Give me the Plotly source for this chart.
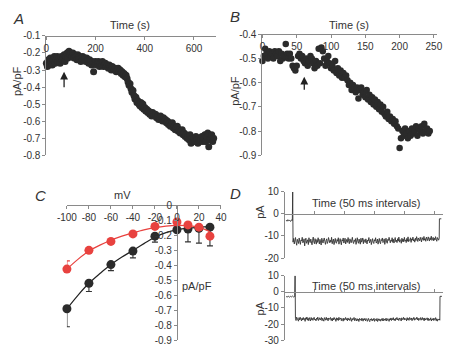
import numpy as np
import plotly.graph_objects as go

W, H = 452, 361
FONT = "Liberation Sans, Arial, sans-serif"
AX = "#8a8a8a"
TXT = "#333333"
DOT = "#2b2b2b"
RED = "#e8423f"

# ---------------- Panel A data (time course, pA/pF) ----------------
a_time_step = 4
a_values = [
    -0.26, -0.28, -0.24, -0.27, -0.23, -0.25, -0.27, -0.24, -0.22, -0.26,
    -0.24, -0.22, -0.25, -0.23, -0.26, -0.22, -0.24, -0.23, -0.21, -0.25,
    -0.22, -0.20, -0.23, -0.19, -0.21, -0.20, -0.22, -0.20, -0.23, -0.21,
    -0.22, -0.24, -0.21, -0.23, -0.22, -0.25, -0.23, -0.22, -0.24, -0.23,
    -0.25, -0.23, -0.24, -0.26, -0.24, -0.25, -0.27, -0.25, -0.31, -0.26,
    -0.25, -0.27, -0.26, -0.25, -0.28, -0.26, -0.27, -0.25, -0.28, -0.27,
    -0.26, -0.28, -0.27, -0.29, -0.27, -0.28, -0.30, -0.28, -0.29, -0.30,
    -0.29, -0.31, -0.30, -0.29, -0.31, -0.30, -0.32, -0.31, -0.33, -0.32,
    -0.34, -0.33, -0.35, -0.37, -0.39, -0.38, -0.41, -0.43, -0.42, -0.45,
    -0.47, -0.46, -0.49, -0.48, -0.50, -0.51, -0.49, -0.52, -0.50, -0.53,
    -0.52, -0.54, -0.53, -0.55, -0.54, -0.56, -0.55, -0.57, -0.55, -0.56,
    -0.57, -0.56, -0.58, -0.57, -0.59, -0.58, -0.57, -0.59, -0.60, -0.58,
    -0.60, -0.59, -0.61, -0.60, -0.62, -0.61, -0.63, -0.62, -0.61, -0.64,
    -0.63, -0.65, -0.64, -0.63, -0.66, -0.65, -0.67, -0.66, -0.65, -0.68,
    -0.67, -0.69, -0.68, -0.70, -0.69, -0.71, -0.68, -0.73, -0.70, -0.72,
    -0.70, -0.72, -0.69, -0.71, -0.73, -0.70, -0.72, -0.71, -0.69, -0.72,
    -0.70, -0.68, -0.72, -0.69, -0.67, -0.75, -0.71, -0.70, -0.68, -0.72,
    -0.70,
]
a_xticks = [0, 200, 400, 600]
a_yticks = [-0.1, -0.2, -0.3, -0.4, -0.5, -0.6, -0.7, -0.8]
a_arrow_time = 72

# ---------------- Panel B data ----------------
b_time_step = 2
b_values = [
    -0.51, -0.49, -0.46, -0.48, -0.50, -0.47, -0.49, -0.48, -0.50, -0.47,
    -0.48, -0.49, -0.47, -0.51, -0.48, -0.50, -0.49, -0.44, -0.48, -0.50,
    -0.48, -0.50, -0.53, -0.54, -0.55, -0.53, -0.49, -0.48, -0.50, -0.49,
    -0.51, -0.52, -0.50, -0.53, -0.51, -0.49, -0.50, -0.52, -0.54, -0.51,
    -0.53, -0.46, -0.52, -0.455, -0.47, -0.50, -0.53, -0.51, -0.49, -0.52,
    -0.54, -0.53, -0.55, -0.51, -0.56, -0.54, -0.57, -0.55, -0.58, -0.56,
    -0.58, -0.57, -0.59, -0.61, -0.60, -0.63, -0.61, -0.62, -0.64, -0.62,
    -0.665, -0.63, -0.62, -0.65, -0.64, -0.66, -0.63, -0.67, -0.65, -0.68,
    -0.66, -0.69, -0.67, -0.70, -0.68, -0.71, -0.69, -0.72, -0.70, -0.73,
    -0.74, -0.72, -0.75, -0.74, -0.76, -0.75, -0.77, -0.76, -0.78, -0.79,
    -0.87, -0.83, -0.80, -0.82, -0.79, -0.81, -0.83, -0.80, -0.82, -0.79,
    -0.81, -0.80, -0.78, -0.82, -0.79, -0.80, -0.78, -0.81, -0.77, -0.80,
    -0.79, -0.81, -0.80,
]
b_xticks = [0, 50, 100, 150, 200, 250]
b_yticks = [-0.4, -0.5, -0.6, -0.7, -0.8, -0.9]
b_arrow_time = 61

# ---------------- Panel C data (I-V) ----------------
c_mv = [-100, -80, -60, -40, -20, 0, 10, 20, 30]
c_black = [-0.69, -0.52, -0.395, -0.305, -0.205, -0.162, -0.158, -0.152, -0.145]
c_black_err = [0.12, 0.055, 0.04, 0.045, 0.04, 0.0, 0.085, 0.10, 0.125]
c_red = [-0.425, -0.30, -0.24, -0.19, -0.14, -0.11, -0.13, -0.145, -0.205]
c_red_err = [0.055, 0, 0, 0, 0, 0, 0, 0, 0]
c_fit_mv = [-100, -90, -80, -70, -60, -50, -40, -30, -20, -10, 0, 10, 20, 30]
c_black_fit = [-0.69, -0.60, -0.52, -0.455, -0.395, -0.345, -0.30, -0.255, -0.212,
               -0.182, -0.163, -0.152, -0.146, -0.142]
c_red_fit = [-0.425, -0.36, -0.305, -0.265, -0.232, -0.205, -0.183, -0.163, -0.148,
             -0.138, -0.133, -0.135, -0.146, -0.175]
c_xticks = [-100, -80, -60, -40, -20, 0, 20, 40]
c_yticks = [0, -0.1, -0.2, -0.3, -0.4, -0.5, -0.6, -0.7, -0.8, -0.9]

# ---------------- Panel D data (current traces, pA) ----------------
d1_pre = [-2.8, -3.3, -2.6, -3.1, -2.9, -3.4, -2.7, -3.0]
d1_peak = 10
d1_noise = [
    -12.8, -11.1, -13.6, -12.0, -10.7, -12.9, -14.2, -11.5, -12.3, -13.4, -10.9, -12.6, -13.8, -11.8, -12.2, -10.6, -13.1, -12.7, -11.3, -14.5,
    -12.1, -11.0, -13.3, -12.5, -11.7, -13.9, -10.8, -12.4, -13.0, -11.4, -12.8, -14.0, -11.9, -10.5, -12.7, -13.5, -11.2, -12.0, -13.7, -11.6,
    -12.9, -10.8, -12.2, -13.6, -11.5, -12.4, -14.1, -11.0, -12.7, -13.2, -11.8, -10.9, -12.5, -13.8, -12.1, -11.3, -13.4, -12.6, -10.7, -12.3,
    -13.1, -11.9, -12.8, -10.6, -13.5, -12.2, -11.4, -13.9, -12.0, -11.1, -12.9, -13.3, -11.6, -12.4, -10.8, -13.7, -12.5, -11.2, -12.8, -14.0,
    -11.7, -12.3, -10.9, -13.2, -12.6, -11.0, -13.6, -12.1, -11.5, -12.9, -10.7, -12.4, -13.5, -11.3, -12.0, -13.1, -11.8, -10.6, -12.7, -13.4,
    -11.9, -12.5, -11.2, -13.8, -12.3, -10.8, -12.6, -13.3, -11.4, -12.1, -13.7, -11.0, -12.8, -12.2, -10.9, -13.5, -11.6, -12.4, -13.0, -11.3,
    -12.7, -13.6, -11.8, -12.2, -10.7, -13.1, -12.5, -11.5, -13.9, -12.0, -11.2, -12.8, -13.4, -11.7, -12.3, -10.8, -13.2, -12.6, -11.4, -13.7,
    -12.4, -11.1, -12.9, -13.5, -11.6, -12.1, -10.9, -13.0, -12.6, -11.3, -13.8, -12.2, -11.0, -12.7, -13.3, -11.5, -12.0, -10.6, -12.8, -13.1,
    -11.8, -12.4, -10.8, -12.9, -11.5, -13.2, -12.0, -10.7, -12.6, -11.9, -13.0, -11.2, -12.3, -10.5, -12.8, -11.6, -12.1, -13.3, -11.0, -12.5,
    -11.4, -12.7, -10.6, -12.2, -11.8, -13.0, -11.1, -12.4, -10.4, -12.6, -11.7, -12.0, -10.8, -12.9, -11.3, -11.9, -10.5, -12.3, -11.6, -12.8,
    -11.0, -12.1, -10.3, -11.7, -12.5, -10.9, -11.4, -12.2, -10.6, -11.8, -12.7, -10.7, -11.5, -12.0, -10.2, -11.9, -11.2, -12.4, -10.5, -11.6,
    -12.1, -10.4, -11.3, -12.3, -10.8, -11.7, -10.1, -12.0, -11.4, -10.6, -12.2, -11.0, -11.8, -10.3, -11.5, -12.4, -10.7, -11.2, -11.9, -10.9,
]
d1_post = -2.2
d2_pre = [-2.9, -3.2, -2.7, -3.3, -2.8, -3.1, -2.6, -3.2, -2.9]
d2_peak = 10
d2_noise = [
    -16.4, -17.8, -15.7, -17.1, -16.9, -18.2, -16.0, -17.4, -15.8, -16.7, -18.0, -16.3, -17.5, -15.9, -17.2, -16.6, -18.3, -16.1, -17.0, -15.6,
    -17.6, -16.4, -17.9, -16.0, -16.8, -18.1, -15.9, -17.3, -16.5, -17.7, -16.2, -15.8, -17.4, -16.9, -18.0, -16.3, -17.1, -15.7, -17.8, -16.6,
    -16.1, -17.5, -16.8, -15.9, -17.9, -16.4, -17.2, -18.2, -16.0, -16.9, -17.6, -15.8, -17.3, -16.5, -18.0, -16.2, -17.0, -16.7, -15.9, -17.7,
    -16.6, -18.1, -16.3, -17.4, -15.9, -17.0, -16.8, -18.3, -16.1, -17.5, -16.4, -17.8, -15.8, -17.2, -16.9, -16.2, -17.9, -16.5, -17.1, -18.2,
    -16.3, -17.6, -16.9, -15.9, -17.4, -16.6, -18.0, -16.2, -17.3, -16.8, -17.8, -16.0, -17.1, -18.3, -16.5, -17.5, -16.7, -15.9, -17.9, -16.4,
    -17.2, -18.1, -16.6, -17.7, -16.9, -18.4, -16.5, -17.3, -16.8, -17.9, -16.3, -17.6, -18.2, -16.7, -17.4, -16.4, -18.0, -17.0, -16.6, -18.3,
    -17.1, -16.5, -17.8, -18.5, -16.8, -17.4, -16.6, -18.1, -17.0, -17.6, -16.4, -18.3, -17.2, -16.9, -17.9, -16.5, -18.4, -17.3, -16.7, -17.8,
    -16.9, -18.2, -17.5, -16.6, -17.9, -16.4, -18.0, -17.1, -16.8, -17.7, -16.3, -18.1, -17.4, -16.6, -17.2, -18.3, -16.7, -17.5, -16.2, -17.8,
    -16.5, -17.3, -16.0, -17.6, -16.8, -18.0, -16.4, -17.1, -15.9, -17.4, -16.7, -17.8, -16.2, -17.0, -16.6, -18.1, -16.1, -17.2, -16.9, -15.8,
    -17.5, -16.3, -17.1, -16.7, -18.0, -16.0, -17.4, -16.5, -17.7, -15.9, -16.8, -17.3, -16.2, -17.9, -16.6, -17.0, -15.8, -17.6, -16.4, -17.2,
    -16.9, -15.7, -17.4, -16.3, -17.8, -16.6, -17.1, -16.0, -17.6, -16.8, -15.9, -17.3, -16.5, -18.0, -16.2, -17.5, -16.7, -17.0, -16.1, -17.7,
    -16.4, -17.9, -16.8, -17.3, -16.1, -18.1, -16.9, -17.5, -16.3, -17.8, -16.6, -17.2, -16.0, -17.9, -16.7, -18.2, -17.0, -17.5, -16.8, -17.6,
]
d2_post = -2.8
d_xticks = [0, 50, 100, 150, 200, 250]
d1_yticks = [10, 0, -10, -20]
d2_yticks = [10, 0, -10, -20, -30]


def fx(p):
    return p / W


def fy(p):
    return 1 - p / H


def ttext(vals):
    out = []
    for v in vals:
        if v == 0:
            out.append("0")
        elif float(v).is_integer():
            out.append(str(int(v)))
        else:
            out.append(f"{v:.1f}")
    return out


def trace_d(pre, peak, noise, post, t_pre0, t_spike, t_end):
    t_pre = list(np.linspace(t_pre0, t_spike - 0.6, len(pre)))
    t_noise = list(np.linspace(t_spike + 0.6, t_end, len(noise)))
    t = t_pre + [t_spike] + t_noise + [t_end + 0.3, t_end + 3.5]
    y = pre + [peak] + noise + [post, post]
    return t, y


fig = go.Figure()

# Panel A
a_t = [i * a_time_step for i in range(len(a_values))]
fig.add_trace(go.Scatter(x=a_t, y=a_values, mode="markers", xaxis="x", yaxis="y",
                         marker=dict(size=7, color=DOT), cliponaxis=False))
# Panel B
b_t = [i * b_time_step for i in range(len(b_values))]
fig.add_trace(go.Scatter(x=b_t, y=b_values, mode="markers", xaxis="x2", yaxis="y2",
                         marker=dict(size=6.5, color=DOT), cliponaxis=False))
# Panel C
fig.add_trace(go.Scatter(x=c_fit_mv, y=c_black_fit, mode="lines", line=dict(color="#222222", width=1.2, shape="spline"),
                         xaxis="x3", yaxis="y3", cliponaxis=False))
fig.add_trace(go.Scatter(x=c_mv, y=c_black, mode="markers", xaxis="x3", yaxis="y3",
                         marker=dict(size=9, color=DOT), cliponaxis=False,
                         error_y=dict(type="data", symmetric=False, array=[0] * len(c_mv),
                                      arrayminus=c_black_err, color="#333333", thickness=1.1, width=3)))
fig.add_trace(go.Scatter(x=c_fit_mv, y=c_red_fit, mode="lines", line=dict(color=RED, width=1.2, shape="spline"),
                         xaxis="x3", yaxis="y3", cliponaxis=False))
fig.add_trace(go.Scatter(x=c_mv, y=c_red, mode="markers", xaxis="x3", yaxis="y3",
                         marker=dict(size=9, color=RED), cliponaxis=False,
                         error_y=dict(type="data", symmetric=False, array=c_red_err,
                                      arrayminus=[0] * len(c_mv), color=RED, thickness=1.1, width=3)))
# Panel D
t1, y1 = trace_d(d1_pre, d1_peak, d1_noise, d1_post, 2, 13, 258)
fig.add_trace(go.Scatter(x=t1, y=y1, mode="lines", xaxis="x4", yaxis="y4",
                         line=dict(color="#333333", width=0.9)))
t2, y2 = trace_d(d2_pre, d2_peak, d2_noise, d2_post, 2, 17, 259)
fig.add_trace(go.Scatter(x=t2, y=y2, mode="lines", xaxis="x5", yaxis="y5",
                         line=dict(color="#333333", width=0.9)))

base = dict(showgrid=False, zeroline=False, showline=True, linecolor=AX, linewidth=1,
            ticks="outside", ticklen=3, tickcolor=AX, tickwidth=1,
            tickfont=dict(family=FONT, size=10, color=TXT))

# geometry (pixels)
A_x0, A_x1, A_y0, A_y1 = 37.7, 213.7, 31.0, 154.3
B_x0, B_x1, B_y0, B_y1 = 261.7, 442.3, 29.3, 154.3
C_x0, C_x1, C_y0, C_y1 = 59.0, 218.7, 206.3, 345.7
D_x0, D_x1 = 285.0, 448.7
D1_y0, D1_y1 = 192.3, 260.7
D2_y0, D2_y1 = 279.0, 345.7

c_xr = [-100, 40]
c_ypos = fx(C_x0 + (0 - c_xr[0]) / (c_xr[1] - c_xr[0]) * (C_x1 - C_x0))
d1_r = [-20, 10]
d2_r = [-30, 10]
d1_zero = fy(D1_y0 + (d1_r[1] - 0) / (d1_r[1] - d1_r[0]) * (D1_y1 - D1_y0))
d2_zero = fy(D2_y0 + (d2_r[1] - 0) / (d2_r[1] - d2_r[0]) * (D2_y1 - D2_y0))

fig.update_layout(
    width=W, height=H, margin=dict(l=0, r=0, t=0, b=0),
    paper_bgcolor="white", plot_bgcolor="white", showlegend=False,
    xaxis=dict(base, domain=[fx(A_x0), fx(A_x1)], range=[0, 690], anchor="free",
               position=fy(A_y0), side="bottom", tickvals=a_xticks, ticktext=ttext(a_xticks)),
    yaxis=dict(base, domain=[fy(A_y1), fy(A_y0)], range=[-0.8, -0.1], anchor="x",
               tickvals=a_yticks, ticktext=ttext(a_yticks)),
    xaxis2=dict(base, domain=[fx(B_x0), fx(B_x1)], range=[0, 254], anchor="free",
                position=fy(B_y0), side="bottom", tickvals=b_xticks, ticktext=ttext(b_xticks)),
    yaxis2=dict(base, domain=[fy(B_y1), fy(B_y0)], range=[-0.9, -0.4], anchor="x2",
                tickvals=b_yticks, ticktext=ttext(b_yticks)),
    xaxis3=dict(base, domain=[fx(C_x0), fx(C_x1)], range=c_xr, anchor="free",
                position=fy(C_y0), side="bottom", tickvals=c_xticks, ticktext=ttext(c_xticks)),
    yaxis3=dict(base, domain=[fy(C_y1), fy(C_y0)], range=[-0.9, 0], anchor="free",
                position=c_ypos, tickvals=c_yticks, ticktext=ttext(c_yticks)),
    xaxis4=dict(base, domain=[fx(D_x0), fx(D_x1)], range=[0, 264], anchor="free",
                position=d1_zero, side="bottom", tickvals=d_xticks, showticklabels=False,
                ticks="inside"),
    yaxis4=dict(base, domain=[fy(D1_y1), fy(D1_y0)], range=d1_r, anchor="x4",
                tickvals=d1_yticks, ticktext=ttext(d1_yticks)),
    xaxis5=dict(base, domain=[fx(D_x0), fx(D_x1)], range=[0, 264], anchor="free",
                position=d2_zero, side="bottom", tickvals=d_xticks, showticklabels=False,
                ticks="inside"),
    yaxis5=dict(base, domain=[fy(D2_y1), fy(D2_y0)], range=d2_r, anchor="x5",
                tickvals=d2_yticks, ticktext=ttext(d2_yticks)),
)


def label(x, y, text, size=10, angle=0, xanchor="center", italic=False, color=TXT):
    fig.add_annotation(x=fx(x), y=fy(y), xref="paper", yref="paper", text=text,
                       showarrow=False, textangle=angle, xanchor=xanchor, yanchor="middle",
                       font=dict(family=FONT, size=size, color=color,
                                 style="italic" if italic else "normal"))


# panel letters
label(9, 13, "A", size=15, italic=True)
label(233, 11, "B", size=15, italic=True)
label(32, 196, "C", size=15, italic=True)
label(234, 194, "D", size=15, italic=True)

# axis titles
label(124, 20, "Time (s)", size=11)
label(351, 20, "Time (s)", size=11)
label(8, 78, "pA/pF", size=11, angle=-90)
label(233, 88, "pA/pF", size=11, angle=-90)
label(117, 196, "mV", size=11)
label(176, 290, "pA/pF", size=11, xanchor="left")
label(369, 204, "Time (50 ms intervals)", size=11)
label(369, 290, "Time (50 ms intervals)", size=11)
label(259, 213, "pA", size=11, angle=-90)
label(259, 313, "pA", size=11, angle=-90)

# arrows
fig.add_annotation(x=a_arrow_time, y=-0.31, ax=a_arrow_time, ay=-0.41, xref="x", yref="y",
                   axref="x", ayref="y", text="", showarrow=True, arrowhead=2, arrowsize=1.2,
                   arrowwidth=1.3, arrowcolor="#222222")
fig.add_annotation(x=b_arrow_time, y=-0.575, ax=b_arrow_time, ay=-0.636, xref="x2", yref="y2",
                   axref="x2", ayref="y2", text="", showarrow=True, arrowhead=2, arrowsize=1.2,
                   arrowwidth=1.3, arrowcolor="#222222")

fig.write_html("out.html", config={"displayModeBar": False},
               post_script="document.body.style.margin='0';")
